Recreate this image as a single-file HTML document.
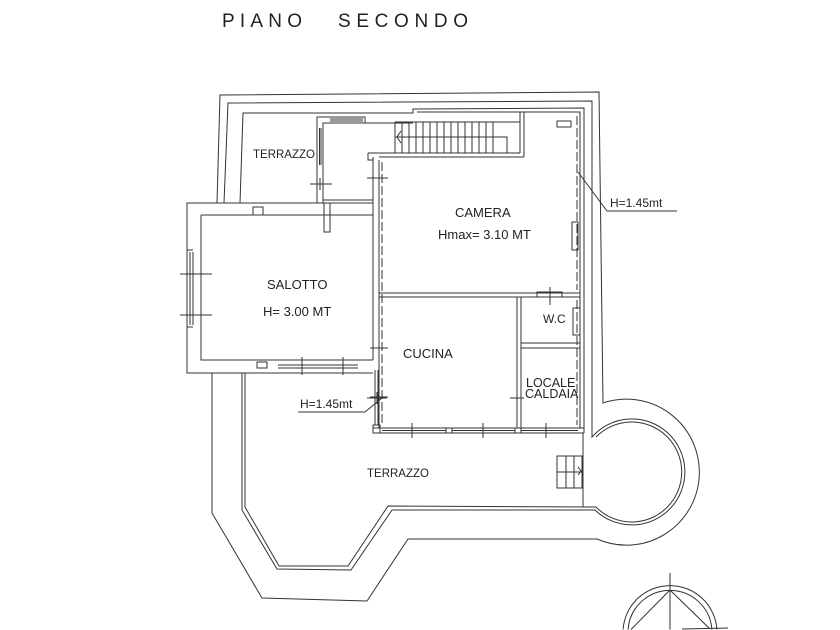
<!DOCTYPE html>
<html><head><meta charset="utf-8"><style>
html,body{margin:0;padding:0;background:#fff;width:840px;height:630px;overflow:hidden;}
svg{display:block;overflow:hidden;}
text{font-family:"Liberation Sans",Arial,sans-serif;fill:#222;}
</style></head><body>
<svg width="840" height="630" viewBox="0 0 840 630" xmlns="http://www.w3.org/2000/svg">
<rect width="840" height="630" fill="#fff"/>
<text x="222" y="27" font-size="19" textLength="80" lengthAdjust="spacing">PIANO</text>
<text x="338" y="27" font-size="19" textLength="130" lengthAdjust="spacing">SECONDO</text>

<g fill="none" stroke="#333" stroke-width="1">
<!-- outermost boundary -->
<path d="M217,203 L220,95 L599,92 L603,403 A73,73 0 1 1 597,539 L408,539 L367,601 L262,598 L212,513 L212,373 L187,373 L187,203 L373,203"/>
<!-- second parapet line -->
<path d="M224,203 L228,103 L592,101 L592,437 A53,53 0 1 1 595,510 L392,510 L351,570 L277,569 L242,510 L242,373"/>
<!-- inner double -->
<path d="M245,373 L245,507 L279,566 L348,566 L388,506 L596,507 A50,50 0 1 0 596,437"/>
<!-- building outer top / right -->
<path d="M240,203 L243,113 L413,113 L413,109 L584,108 L584,433"/>
<path d="M417,112 L580,112 L580,428"/>
<!-- small room -->
<path d="M317,203 L317,117 L365,117 L365,123 L323,123 L323,203"/>
<path d="M319.5,128 L319.5,165 M321,128 L321,165"/>
<path d="M330,119 L363,119 M330,121 L363,121"/>
<path d="M365,123 L413,123"/>
<path d="M323,200 L373,200"/>
<path d="M310,184 L332,184 M320,178 L320,190"/>
<!-- stairs -->
<path d="M395,122 L520,122 M520,112 L520,153 M524,112 L524,157"/>
<path d="M395,122 L395,153 M402,122 L402,153 M409,122 L409,153 M416,122 L416,153 M423,122 L423,153 M430,122 L430,153 M437,122 L437,153 M444,122 L444,153 M451,122 L451,153 M458,122 L458,153 M465,122 L465,153 M472,122 L472,153 M479,122 L479,153 M486,122 L486,153 M493,122 L493,153"/>
<path d="M395,137 L507,137 L507,153"/>
<path d="M401,131 L397,137 L401,143"/>
<path d="M368,153 L520,153 M368,153 L368,160 L373,160 M379,157 L524,157"/>
<!-- camera -->
<path d="M373,157 L373,360 M379,160 L379,428"/>
<path d="M382,162 L382,426" stroke-dasharray="9,3"/>
<path d="M577,116 L577,290 M577,300 L577,425" stroke-dasharray="9,3"/>
<path d="M367,178 L388,178"/>
<rect x="557" y="121" width="14" height="6"/>
<rect x="572" y="222" width="6" height="28"/>
<path d="M379,293 L580,293 M379,297 L580,297"/>
<!-- wc / locale / cucina -->
<path d="M517,297 L517,428 M521,297 L521,428"/>
<path d="M521,343 L580,343 M521,348 L580,348"/>
<rect x="537" y="292" width="25" height="5"/>
<path d="M550,287 L550,305"/>
<rect x="573" y="308" width="7" height="27"/>
<path d="M510,398 L524,398"/>
<path d="M370,348 L388,348 M370,397 L388,397"/>
<path d="M373,428 L584,428 M373,433 L584,433"/>
<path d="M382,430.5 L578,430.5"/>
<rect x="446" y="428" width="6" height="5" fill="#fff"/>
<rect x="515" y="428" width="6" height="5" fill="#fff"/>
<path d="M412,423 L412,438 M483,423 L483,438 M546,423 L546,438"/>
<!-- salotto -->
<path d="M201,215 L373,215 M201,215 L201,360 L373,360"/>
<path d="M212,373 L373,373"/>
<rect x="253" y="207" width="10" height="8"/>
<path d="M324,203 L324,232 L330,232 L330,203"/>
<path d="M190,252 L190,325 M193,252 L193,325"/>
<path d="M187,250 L193,250 M187,327 L193,327"/>
<path d="M180,274 L212,274 M180,315 L212,315"/>
<path d="M278,365 L358,365 M278,368 L358,368"/>
<rect x="257" y="362" width="10" height="6"/>
<path d="M302,357 L302,375 M343,357 L343,375"/>
<!-- terrace window wall -->
<path d="M375,370 L375,425 M378,370 L378,425"/>
<rect x="373" y="425" width="7" height="8"/>
<!-- lower right terrace -->
<path d="M583,433 L583,507"/>
<rect x="557" y="456" width="25" height="32"/>
<path d="M566,456 L566,488 M574,456 L574,488 M557,472 L582,472"/>
<path d="M578,467 L581,471 L578,475"/>
<!-- leaders -->
<path d="M578,172 L607,211 L677,211"/>
<path d="M298,412 L365,412 L382,398"/>
<path d="M367,398 L387,398 M377,392 L377,404"/>
<!-- compass (clipped at frame bottom) -->
<path d="M623.1,629.5 A47,47 0 0 1 716.9,629.5"/>
<path d="M628.1,629.5 A42,42 0 0 1 711.9,629.5"/>
<path d="M670,573 L670,629.5 M670,590 L631,629.5 M670,590 L709,628 M682,629 L728,628"/>
</g>

<text x="253" y="158" font-size="11.5" fill="#444">TERRAZZO</text>
<text x="367" y="477" font-size="11.5" fill="#444">TERRAZZO</text>
<text x="267" y="289" font-size="13">SALOTTO</text>
<text x="263" y="316" font-size="13">H= 3.00 MT</text>
<text x="455" y="217" font-size="13">CAMERA</text>
<text x="438" y="239" font-size="13">Hmax= 3.10 MT</text>
<text x="403" y="358" font-size="13">CUCINA</text>
<text x="543" y="323" font-size="12">W.C</text>
<text x="526" y="387" font-size="12.5">LOCALE</text>
<text x="525" y="398" font-size="12.5">CALDAIA</text>
<text x="610" y="207" font-size="12">H=1.45mt</text>
<text x="300" y="408" font-size="12">H=1.45mt</text>
</svg>
</body></html>
